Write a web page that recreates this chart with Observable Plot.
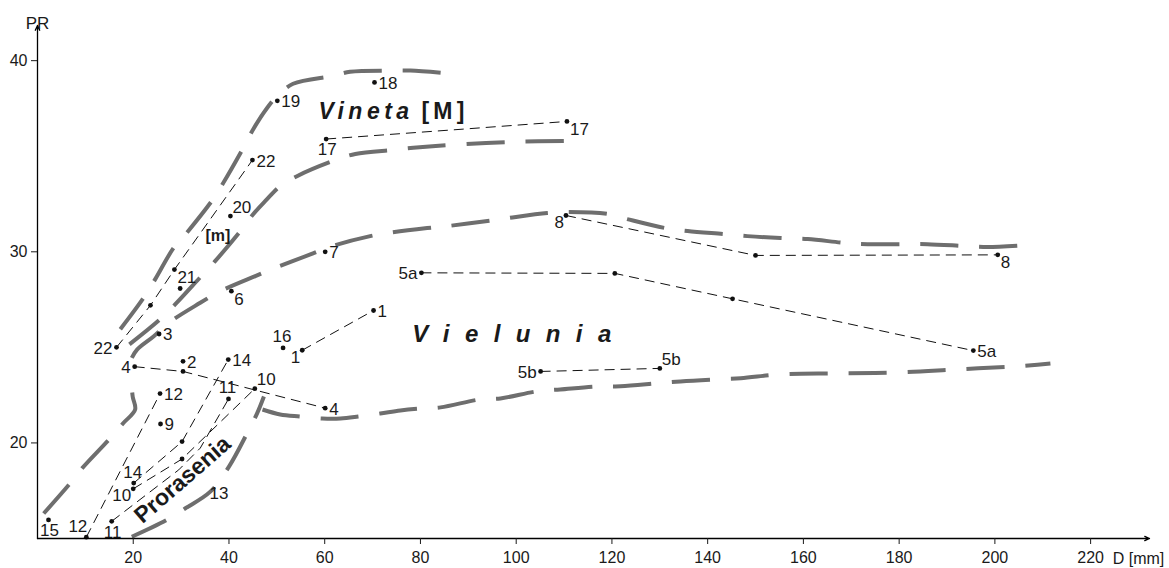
<!DOCTYPE html>
<html><head><meta charset="utf-8">
<script src="https://cdn.jsdelivr.net/npm/d3@7"></script>
<script src="https://cdn.jsdelivr.net/npm/@observablehq/plot@0.6"></script>
<style>
html,body{margin:0;padding:0;background:#fff;}
#chart{width:1169px;height:568px;}
</style></head><body><div id="chart"></div>
<script>
// ---- axes ----
const xDomain = [0, 232.3];
const yDomain = [15, 41.84];
const xTicks = [20, 40, 60, 80, 100, 120, 140, 160, 180, 200, 220];
const yTicks = [20, 30, 40];

// ---- measured points (D [mm], PR) ----
const pointLabel = ["18","19","17","17","22","20","7","21","","","6","22","3","2","4","","4","10","14","11","12","9","","","14","10","11","12","15","16","1","1","8","","8","5a","","","5a","5b","5b"];
const pointD  = [70.4,50.1,60.3,110.6,44.9,40.3,60.1,28.6,29.8,23.6,40.5,16.5,25.4,30.4,20.3,30.4,60.1,45.4,39.85,39.9,25.6,25.7,30.2,30.2,20.1,20.0,15.5,10.2,2.3,51.3,55.3,70.2,110.4,150,200.6,80.2,120.6,145.2,195.5,105.1,130];
const pointPR = [38.86,37.9,35.9,36.82,34.8,31.87,30.0,29.07,28.08,27.2,27.94,25.0,25.7,24.27,23.99,23.74,21.82,22.84,24.36,22.3,22.58,20.99,20.07,19.16,17.9,17.6,15.9,15.07,15.97,24.97,24.85,26.93,31.9,29.81,29.84,28.9,28.87,27.54,24.83,23.74,23.9];
const labelSide = ["r","r","b","rb","r","ra","r","rb","","","rb","l","r","r","l","","r","ra","r","a","r","r","","","a","lb","b","la","b","a","lb","r","lb","","rb","l","","","r","l","ra"];

// ---- thin dashed series (D, PR) ----
const line17 = [[60.3,35.9],[89,36.42],[110.6,36.82]];
const line22 = [[16.5,25.0],[23.6,27.2],[28.6,29.07],[44.9,34.8]];
const line8  = [[110.4,31.9],[150,29.81],[200.6,29.84]];
const line5a = [[80.2,28.9],[120.6,28.87],[145.2,27.54],[195.5,24.83]];
const line5b = [[105.1,23.74],[130,23.9]];
const line1  = [[55.3,24.85],[70.2,26.93]];
const line4  = [[20.3,23.99],[30.4,23.74],[60.1,21.82]];
const line10 = [[20.0,17.6],[30.2,19.16],[45.4,22.84]];
const line14 = [[20.1,17.9],[30.2,20.07],[39.85,24.36]];
const line12 = [[10.2,15.07],[25.6,22.58]];
const line11 = [[15.5,15.9],[29.5,18.59],[34.0,19.73],[39.9,22.3]];

// ---- thick grey group boundaries (D, PR) ----
const vinetaOuter = [[17.3,25.95],[22.1,27.57],[24.6,28.57],[28.4,30.19],[31.5,31.09],[36.7,32.76],[38.8,33.6],[43.0,35.44],[45.1,36.43],[48.0,37.54],[50.1,38.16],[53.4,38.79],[61.8,39.21],[65.3,39.42],[73.7,39.48],[77.9,39.48],[86.3,39.32]];
const vinetaInner = [[19.2,25.16],[25.6,26.47],[28.8,27.26],[34.0,28.67],[37.1,29.51],[42.4,31.09],[45.1,31.98],[47.6,32.66],[50.7,33.44],[54.3,33.97],[61.8,34.76],[66.4,35.12],[74.3,35.33],[78.5,35.44],[86.9,35.6],[99.4,35.75],[111.9,35.8]];
const leftEdge = [[1.3,16.31],[6.8,17.88],[9.3,18.67],[15.2,20.25],[17.9,21.03],[20.4,21.75],[19.9,22.4],[19.7,22.87]];
const vieluniaUpper = [[19.7,24.45],[20.8,24.88],[24.3,25.58],[27.4,26.28],[34.0,27.33],[38.2,27.94],[45.5,28.73],[49.7,29.16],[57.0,29.86],[61.6,30.3],[69.5,30.82],[73.7,31.0],[81.4,31.24],[85.8,31.35],[94.0,31.61],[98.4,31.77],[106.5,32.03],[110.9,32.08],[119.1,31.98],[123.2,31.71],[131.2,31.24],[135.8,31.09],[143.3,30.93],[148.3,30.82],[155.2,30.72],[160.9,30.67],[168.8,30.46],[173.4,30.4],[181.3,30.4],[185.9,30.4],[193.9,30.3],[198.5,30.25],[206.4,30.35]];
const proraseniaEdge = [[19.7,15.09],[27.0,15.97],[30.9,16.58],[36.1,17.45],[40.0,18.76],[43.8,20.51],[45.9,21.56],[47.3,22.43]];
const vieluniaLower = [[47.0,21.75],[50.7,21.49],[54.9,21.38],[59.5,21.28],[63.3,21.28],[67.0,21.38],[71.6,21.54],[75.8,21.7],[80.0,21.8],[84.2,21.86],[92.5,22.28],[96.7,22.33],[104.4,22.7],[109.2,22.8],[117.0,22.96],[121.8,22.96],[129.5,23.12],[134.3,23.22],[142.1,23.33],[146.9,23.38],[155.2,23.59],[167.1,23.64],[179.7,23.69],[192.2,23.85],[204.7,24.01],[211.6,24.16]];

// ---- group names ----
const groupName = ["Vineta", "[M]", "Vielunia", "[m]", "Prorasenia", "13"];
const groupD    = [58.7, 80.2, 78.3, 37.7, 30.3, 37.9];
const groupPR   = [37.35, 37.35, 25.67, 30.83, 18.08, 17.36];

// ---- build tables ----
const points = pointLabel.map((t, i) => ({label: t, D: pointD[i], PR: pointPR[i], side: labelSide[i]}));
const toRows = (arrs) => arrs.flatMap((a, k) => a.map(([D, PR]) => ({id: k, D, PR})));
const thinRows = toRows([line17, line22, line8, line5a, line5b, line1, line4, line10, line14, line12, line11]);
const thickRows = toRows([vinetaOuter, vinetaInner, leftEdge, vieluniaUpper, proraseniaEdge, vieluniaLower]);
const groups = groupName.map((t, i) => ({t, D: groupD[i], PR: groupPR[i]}));

const sideStyle = {
  r:  {textAnchor: "start",  dx: 4,  dy: 1},
  l:  {textAnchor: "end",    dx: -4, dy: 1},
  a:  {textAnchor: "middle", dx: -1, dy: -11},
  b:  {textAnchor: "middle", dx: 1,  dy: 11},
  ra: {textAnchor: "start",  dx: 2,  dy: -9},
  rb: {textAnchor: "start",  dx: 3,  dy: 8},
  la: {textAnchor: "end",    dx: 1,  dy: -11},
  lb: {textAnchor: "end",    dx: -2, dy: 7}
};
const ink = "#1a1a1a";
const labelMarks = Object.entries(sideStyle).map(([k, s]) =>
  Plot.text(points.filter(p => p.side === k), {x: "D", y: "PR", text: "label", fontSize: 17, fill: ink, ...s}));

const axesLines = [
  {x1: xDomain[0], y1: yDomain[0], x2: xDomain[1], y2: yDomain[0]},
  {x1: xDomain[0], y1: yDomain[0], x2: xDomain[0], y2: yDomain[1]}
];

const chart = Plot.plot({
  width: 1169, height: 568,
  marginLeft: 37, marginRight: 20, marginTop: 25, marginBottom: 30,
  x: {domain: xDomain},
  y: {domain: yDomain},
  style: {fontFamily: "'Liberation Sans', Arial, sans-serif", fontSize: "16px", color: ink, background: "#fff"},
  marks: [
    Plot.line(thickRows, {x: "D", y: "PR", z: "id", stroke: "#6e6e6e", strokeWidth: 4, strokeDasharray: "38,21", strokeLinecap: "butt", curve: "catmull-rom"}),
    Plot.line(thinRows, {x: "D", y: "PR", z: "id", stroke: "#111", strokeWidth: 1, strokeDasharray: "10,6", strokeLinecap: "butt"}),
    Plot.dot(points, {x: "D", y: "PR", r: 2.4, fill: "#111", stroke: null}),
    ...labelMarks,
    Plot.text(groups.slice(0, 1), {x: "D", y: "PR", text: "t", textAnchor: "start", fontSize: 23, fontWeight: "bold", fontStyle: "italic", fill: ink}),
    Plot.text(groups.slice(1, 2), {x: "D", y: "PR", text: "t", textAnchor: "start", fontSize: 23, fontWeight: "bold", fill: ink}),
    Plot.text(groups.slice(2, 3), {x: "D", y: "PR", text: "t", textAnchor: "start", fontSize: 24, fontWeight: "bold", fontStyle: "italic", fill: ink}),
    Plot.text(groups.slice(3, 4), {x: "D", y: "PR", text: "t", textAnchor: "middle", fontSize: 16, fontWeight: "bold", fill: ink}),
    Plot.text(groups.slice(4, 5), {x: "D", y: "PR", text: "t", textAnchor: "middle", fontSize: 23, fontWeight: "bold", fill: ink, rotate: -41}),
    Plot.text(groups.slice(5, 6), {x: "D", y: "PR", text: "t", textAnchor: "middle", fontSize: 17, fill: ink}),
    Plot.arrow(axesLines, {x1: "x1", y1: "y1", x2: "x2", y2: "y2", stroke: "#000", strokeWidth: 1.3, headLength: 6, headAngle: 50}),
    Plot.axisX({ticks: xTicks, tickSize: 6, tickPadding: 7, fontSize: 16, label: null}),
    Plot.axisY({ticks: yTicks, tickSize: 6, tickPadding: 4, fontSize: 16, label: null}),
    Plot.text(["PR"], {frameAnchor: "top-left", dx: 0, dy: -9, textAnchor: "middle", fontSize: 17, fill: ink}),
    Plot.text(["D [mm]"], {frameAnchor: "bottom-right", dx: -11, dy: 14, lineAnchor: "top", textAnchor: "middle", fontSize: 16, fill: ink})
  ]
});
document.getElementById("chart").appendChild(chart);
const spacing = {"Vineta": "4.5px", "[M]": "4.3px", "Vielunia": "15.4px"};
d3.select(chart).selectAll("text").filter(function() { return spacing[this.textContent] !== undefined; })
  .style("letter-spacing", function() { return spacing[this.textContent]; });
</script>
</body></html>
